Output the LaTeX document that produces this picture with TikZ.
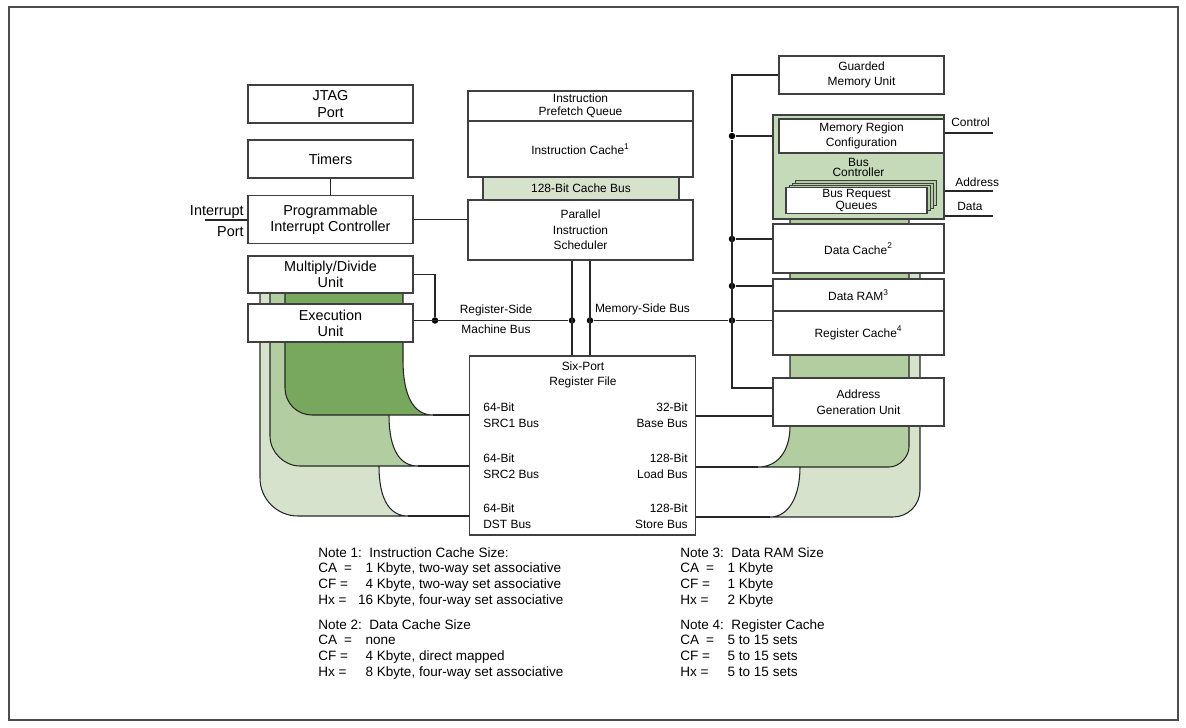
\documentclass[tikz,border=0pt]{standalone}
\usepackage{fontspec}
\setmainfont{Liberation Sans}
\usetikzlibrary{positioning}

\definecolor{darkbus}{RGB}{120,168,94}
\definecolor{midbus}{RGB}{178,205,160}
\definecolor{lightbus}{RGB}{214,226,204}
\definecolor{ctlgreen}{RGB}{196,218,184}

% note rows: key, right aligned number, rest
\newcommand{\noteln}[4][31.2pt]{\makebox[#1][l]{#2}\makebox[0pt][r]{#3}#4}
\newcommand{\cakey}{CA\hspace{1.8pt} =}

\begin{document}
\begin{tikzpicture}[x=0.02cm, y=-0.02cm,
box/.style={draw=black!75, line width=0.6pt, fill=white, align=center, inner sep=1pt, font=\fontsize{6.8}{8.9}\selectfont},
bigbox/.style={box, font=\fontsize{8.2}{9.2}\selectfont},
sz/.style 2 args={minimum width=#1*0.02cm, minimum height=#2*0.02cm},
lbl/.style={inner sep=0pt, font=\fontsize{6.8}{8.9}\selectfont},
wire/.style={draw=black!85, line width=0.6pt},
busline/.style={draw=black!85, line width=0.6pt},
dot/.style={circle, fill=black, inner sep=0pt, minimum size=0.13cm},
note/.style={inner sep=0pt, anchor=north west, align=left, font=\fontsize{7.7}{8.9}\selectfont} ]

\useasboundingbox (0,0) rectangle (1186,727);
\draw[draw=black!70, line width=1.1pt] (9,7) rectangle (1178,720);

% Bus ends
\coordinate (src1end) at (433,415);
\coordinate (src2end) at (418,466);
\coordinate (dstend) at (408,516);
\coordinate (loadend) at (758,467);
\coordinate (storeend) at (770,517);
\coordinate (basey) at (0,416);

% Register side buses
\draw[busline, fill=lightbus] (260,270) -- (260,478) .. controls (260,499) and (277,516) .. (298,516) -- (dstend) .. controls (390,516) and (379,500) .. (379,466) -- (379,270) -- cycle;
\draw[busline, fill=midbus] (270,270) -- (270,436) .. controls (270,452) and (284,466) .. (300,466) -- (src2end) .. controls (400,466) and (389,450) .. (389,415) -- (389,270) -- cycle;
\draw[busline, fill=darkbus] (285,270) -- (285,388) .. controls (285,403) and (297,415) .. (312,415) -- (src1end) .. controls (413,415) and (403,395) .. (403,360) -- (403,270) -- cycle;

% Memory side buses
\draw[busline, fill=lightbus] (800,250) -- (800,467) .. controls (800,496) and (789,517) .. (storeend) -- (893,517) .. controls (908,517) and (920,505) .. (920,490) -- (920,250) -- cycle;
\draw[busline, fill=midbus] (790,215) -- (790,426) .. controls (790,452) and (777,467) .. (loadend) -- (889,467) .. controls (900,467) and (909,456) .. (909,447) -- (909,215) -- cycle;

% Left column
\node[bigbox, sz={165}{38}] (jtag) at (330.5,104) {JTAG\\Port};
\node[bigbox, sz={165}{38}] (timers) at (330.5,159) {Timers};
\node[bigbox, sz={165}{48}] (pic) at (330.5,219.5) {Programmable\\Interrupt Controller};
\node[bigbox, sz={165}{37}] (mdu) at (330.5,274.5) {Multiply/Divide\\Unit};
\node[bigbox, sz={165}{38}] (exu) at (330.5,323) {Execution\\Unit};
\node[lbl, font=\fontsize{8.2}{9.2}\selectfont, anchor=east] (intlbl) at (244,212) {Interrupt};
\node[lbl, font=\fontsize{8.2}{9.2}\selectfont, anchor=east] (portlbl) at (244,232) {Port};
\coordinate (intport) at (205,220);

% Center column
\node[box, sz={225}{30}, font=\fontsize{6.8}{7.4}\selectfont] (ipq) at (580.5,106) {Instruction\\Prefetch Queue};
\node[box, sz={225}{56}] (icache) at (580.5,149) {Instruction Cache\textsuperscript{1}};
\node[box, sz={196}{23}, fill=lightbus] (cbus) at (581,188.5) {128-Bit Cache Bus};
\node[box, sz={225}{60}] (pis) at (580.5,230) {Parallel\\Instruction\\Scheduler};
\node[box, sz={226}{179}] (rf) at (582.5,445.5) {};
\node[lbl, align=center] (rftitle) at (583,375) {Six-Port\\Register File};
\node[lbl, align=left, anchor=west] (src1) at (483,415) {64-Bit\\SRC1 Bus};
\node[lbl, align=left, anchor=west] (src2) at (483,466) {64-Bit\\SRC2 Bus};
\node[lbl, align=left, anchor=west] (dst) at (483,516) {64-Bit\\DST Bus};
\node[lbl, align=right, anchor=east] (basebus) at (688,415) {32-Bit\\Base Bus};
\node[lbl, align=right, anchor=east] (loadbus) at (688,466) {128-Bit\\Load Bus};
\node[lbl, align=right, anchor=east] (storebus) at (688,516) {128-Bit\\Store Bus};
\node[lbl] (regside) at (496,310) {Register-Side};
\node[lbl] (machbus) at (496,329) {Machine Bus};
\node[lbl] (memside) at (642.5,309) {Memory-Side Bus};

% Right column
\node[box, sz={165}{38}] (gmu) at (861.5,75) {Guarded\\Memory Unit};
\node[box, sz={171}{104}, fill=ctlgreen, font=\fontsize{6.8}{5.7}\selectfont] (busctl) at (858.5,167) {Bus\\Controller};
\node[box, sz={165}{34}, font=\fontsize{6.8}{8.1}\selectfont] (mrc) at (861.5,136) {Memory Region\\Configuration};
\foreach \k in {3,2,1}
  \draw[draw=black!75, line width=0.5pt, fill=midbus] (786+3*\k,188-2.5*\k) rectangle (927+3*\k,213-2.5*\k);
\node[box, sz={141}{25}, font=\fontsize{6.8}{6}\selectfont] (brq) at (856.5,200.5) {Bus Request\\Queues};
\node[box, sz={171}{49}] (dcache) at (858.5,248.5) {Data Cache\textsuperscript{2}};
\node[box, sz={171}{32}] (dram) at (858.5,295) {Data RAM\textsuperscript{3}};
\node[box, sz={171}{44}] (rcache) at (858.5,333) {Register Cache\textsuperscript{4}};
\node[box, sz={171}{48}] (agu) at (858.5,402) {Address\\Generation Unit};
\node[lbl, anchor=west] (ctllbl) at (951,122) {Control};
\node[lbl, anchor=west] (addrlbl) at (955,182) {Address};
\node[lbl, anchor=west] (datalbl) at (957,206) {Data};
\coordinate (ctlend) at (993,133);
\coordinate (addrend) at (993,191);
\coordinate (dataend) at (993,216);
\coordinate (agutap) at (732,388);

% Junctions
\node[dot] (mddot) at (435,320.5) {};
\node[dot] (rsdot) at (572,320.5) {};
\node[dot] (msdot) at (590,320.5) {};
\node[dot] (mcdot) at (732,136) {};
\node[dot] (dcdot) at (732,239) {};
\node[dot] (drdot) at (732,286) {};
\node[dot] (rcdot) at (732,320.5) {};

% Wires
\draw[wire] (timers) -- (pic);
\draw[wire] (intport) -- (intport -| pic.west);
\draw[wire] (pic.east) -- (pic.east -| pis.west);
\draw[wire] (mdu.east) -| (mddot);
\draw[wire] (exu.east |- mddot) -- (rsdot);
\draw[wire] (rsdot |- pis.south) -- (rsdot |- rf.north);
\draw[wire] (msdot |- pis.south) -- (msdot |- rf.north);
\draw[wire] (msdot) -- (rcdot) -- (rcdot -| rcache.west);
\draw[wire] (gmu.west) -| (mcdot) -- (agutap) -- (agutap -| agu.west);
\draw[wire] (mcdot) -- (mcdot -| busctl.west);
\draw[wire] (dcdot) -- (dcdot -| dcache.west);
\draw[wire] (drdot) -- (drdot -| dram.west);
\draw[wire] (ctlend -| busctl.east) -- (ctlend);
\draw[wire] (addrend -| busctl.east) -- (addrend);
\draw[wire] (dataend -| busctl.east) -- (dataend);
\draw[wire] (basey -| rf.east) -- (basey -| agu.west);
\draw[wire] (src1end) -- (src1end -| rf.west);
\draw[wire] (src2end) -- (src2end -| rf.west);
\draw[wire] (dstend) -- (dstend -| rf.west);
\draw[wire] (loadend) -- (loadend -| rf.east);
\draw[wire] (storeend) -- (storeend -| rf.east);

% Notes
\node[note] (note1) at (318,547) {Note 1:\ \ Instruction Cache Size:\\
\noteln{\cakey}{1}{\ Kbyte, two-way set associative}\\
\noteln{CF =}{4}{\ Kbyte, two-way set associative}\\
\noteln{Hx =}{16}{\ Kbyte, four-way set associative}};
\node[note] (note2) at (318,619) {Note 2:\ \ Data Cache Size\\
\noteln{\cakey}{}{\kern-4.3pt none}\\
\noteln{CF =}{4}{\ Kbyte, direct mapped}\\
\noteln{Hx =}{8}{\ Kbyte, four-way set associative}};
\node[note] (note3) at (680,547) {Note 3:\ \ Data RAM Size\\
\noteln{\cakey}{1}{\ Kbyte}\\
\noteln{CF =}{1}{\ Kbyte}\\
\noteln{Hx =}{2}{\ Kbyte}};
\node[note] (note4) at (680,619) {Note 4:\ \ Register Cache\\
\noteln{\cakey}{5}{\ to 15 sets}\\
\noteln{CF =}{5}{\ to 15 sets}\\
\noteln{Hx =}{5}{\ to 15 sets}};

\end{tikzpicture}
\end{document}
